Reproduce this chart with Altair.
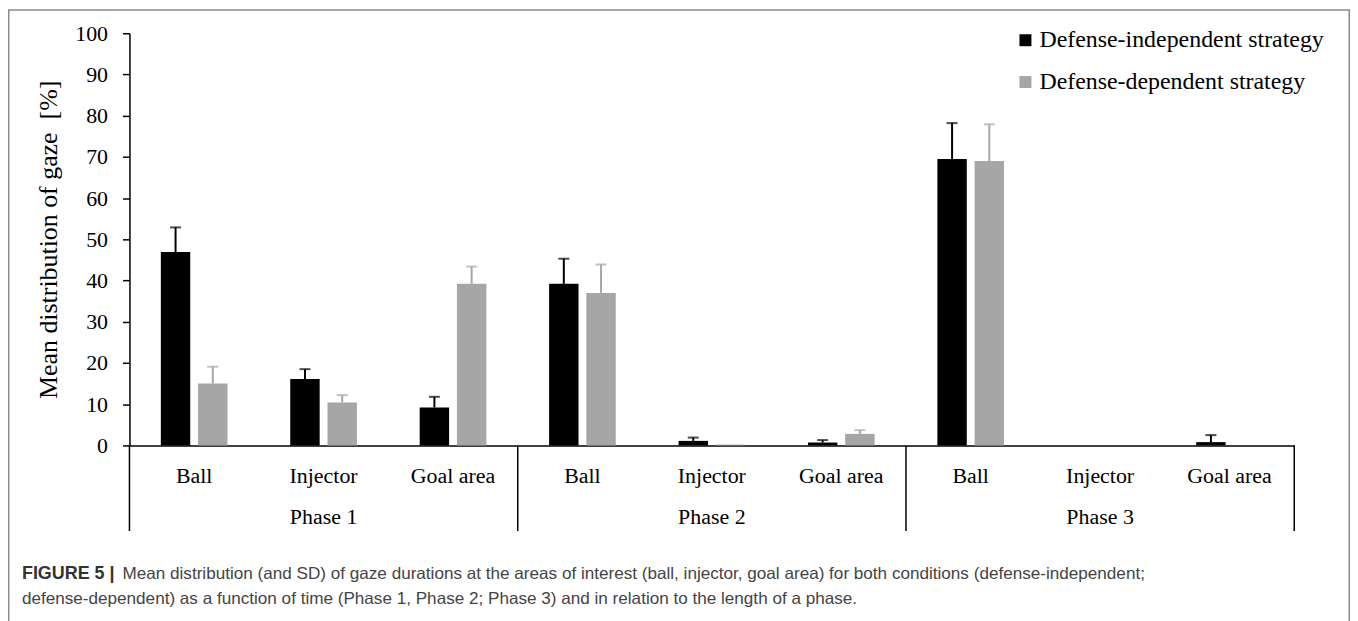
import altair as alt
import pandas as pd

phases = ["Phase 1", "Phase 2", "Phase 3"]
aois = ["Ball", "Injector", "Goal area"]
conditions = ["Defense-independent strategy", "Defense-dependent strategy"]

indep_mean = [46.9, 16.1, 9.2, 39.2, 1.1, 0.7, 69.5, 0.0, 0.8]
indep_sd = [6.0, 2.4, 2.6, 6.1, 0.8, 0.6, 8.7, 0.0, 1.7]
dep_mean = [15.0, 10.4, 39.2, 37.0, 0.2, 2.8, 69.0, 0.0, 0.0]
dep_sd = [4.1, 1.8, 4.2, 6.9, 0.0, 0.9, 8.9, 0.0, 0.0]

phase_bounds = [0, 3, 6, 9]
phase_mids = [1.5, 4.5, 7.5]

y_title = "Mean distribution of gaze\u00a0\u00a0[%]"
caption_head = "FIGURE 5 |"
caption_line1 = ("Mean distribution (and SD) of gaze durations at the areas of interest "
                 "(ball, injector, goal area) for both conditions (defense-independent;")
caption_line2 = ("defense-dependent) as a function of time (Phase 1, Phase 2; Phase 3) "
                 "and in relation to the length of a phase.")

rows = []
keys = []
for i, p in enumerate(phases):
    for j, a in enumerate(aois):
        k = i * 3 + j
        key = f"{p}|{a}"
        keys.append(key)
        rows.append(dict(cat=key, cond=conditions[0], value=indep_mean[k], sd=indep_sd[k]))
        rows.append(dict(cat=key, cond=conditions[1], value=dep_mean[k], sd=dep_sd[k]))
df = pd.DataFrame(rows)
df["upper"] = df["value"] + df["sd"]

SERIF = "Liberation Serif"
SANS = "Liberation Sans"
W, H = 1170, 414

xenc = alt.X("cat:N", sort=keys,
             scale=alt.Scale(paddingInner=0.485, paddingOuter=0.2425),
             axis=alt.Axis(title=None, labelExpr="split(datum.label, '|')[1]",
                           ticks=False, tickSize=0, labelPadding=37,
                           labelBaseline="alphabetic", labelAngle=0,
                           labelFont=SERIF, labelFontSize=22, labelColor="black",
                           domainColor="black", domainWidth=1.5))
xoff = alt.XOffset("cond:N", sort=conditions,
                   scale=alt.Scale(paddingInner=0.21, paddingOuter=0))
yscale = alt.Scale(domain=[0, 100], nice=False)
yaxis = alt.Axis(title=y_title, values=list(range(0, 101, 10)),
                 grid=False, tickSize=7, tickColor="black", tickWidth=1.5,
                 domainColor="black", domainWidth=1.5,
                 labelFont=SERIF, labelFontSize=22, labelColor="black", labelPadding=15,
                 titleFont=SERIF, titleFontSize=26, titleFontWeight="normal",
                 titleColor="black", titlePadding=13)
cscale = alt.Scale(domain=conditions, range=["#000000", "#a6a6a6"])
color = alt.Color("cond:N", sort=conditions, scale=cscale,
                  legend=alt.Legend(title=None, orient="none", legendX=888, legendY=-5,
                                    symbolType="square", symbolSize=144, symbolStrokeWidth=0,
                                    labelFont=SERIF, labelFontSize=24, labelColor="black",
                                    labelLimit=0, rowPadding=18, labelOffset=2))

base = alt.Chart(df)
bars = base.mark_bar().encode(
    x=xenc, xOffset=xoff,
    y=alt.Y("value:Q", scale=yscale, axis=yaxis),
    color=color,
)
rules = base.transform_filter("datum.sd > 0").mark_rule(strokeWidth=2).encode(
    x=xenc, xOffset=xoff,
    y=alt.Y("value:Q", scale=yscale, axis=yaxis), y2="upper:Q",
    color=alt.Color("cond:N", sort=conditions, scale=cscale, legend=None),
)
caps = base.transform_filter("datum.sd > 0").mark_tick(thickness=2, size=11).encode(
    x=xenc, xOffset=xoff,
    y=alt.Y("upper:Q", scale=yscale, axis=yaxis),
    color=alt.Color("cond:N", sort=conditions, scale=cscale, legend=None),
)
inner = alt.layer(bars, rules, caps)

qscale = alt.Scale(domain=[0, 9], nice=False, zero=False)
seps = alt.Chart(pd.DataFrame({"b": phase_bounds})).mark_rule(
    color="black", strokeWidth=1.5).encode(
    x=alt.X("b:Q", scale=qscale, axis=None),
    y=alt.value(H), y2=alt.value(H + 86),
)
phase_text = alt.Chart(pd.DataFrame({"m": phase_mids, "p": phases})).mark_text(
    font=SERIF, fontSize=22, color="black", baseline="alphabetic", align="center").encode(
    x=alt.X("m:Q", scale=qscale, axis=None),
    y=alt.value(H + 79),
    text="p:N",
)

one = alt.Data(values=[{"a": 1}])
cap_head = alt.Chart(one).mark_text(
    font=SANS, fontSize=18, fontWeight="bold", color="#333333",
    align="left", baseline="alphabetic").encode(
    x=alt.value(-108), y=alt.value(548), text=alt.value(caption_head))
cap_l1 = alt.Chart(one).mark_text(
    font=SANS, fontSize=17.2, color="#444444",
    align="left", baseline="alphabetic").encode(
    x=alt.value(-7), y=alt.value(548), text=alt.value(caption_line1))
cap_l2 = alt.Chart(one).mark_text(
    font=SANS, fontSize=17.2, color="#444444",
    align="left", baseline="alphabetic").encode(
    x=alt.value(-108), y=alt.value(573), text=alt.value(caption_line2))
frame = alt.Chart(one).mark_rect(
    fill=None, stroke="#8c8c8c", strokeWidth=1.5).encode(
    x=alt.value(-121.25), x2=alt.value(1225.25),
    y=alt.value(-23.25), y2=alt.value(640))

chart = alt.layer(inner, seps, phase_text, cap_head, cap_l1, cap_l2, frame).resolve_scale(
    x="independent"
).properties(
    width=W, height=H,
    padding={"left": 122, "top": 24, "right": 56, "bottom": 176},
    autosize=alt.AutoSizeParams(type="none"),
).configure_view(stroke=None).configure_legend(
    labelFont=SERIF, labelFontSize=24, labelColor="black", labelLimit=0
)

chart.save("out.html", embed_options={"renderer": "svg", "actions": False})
